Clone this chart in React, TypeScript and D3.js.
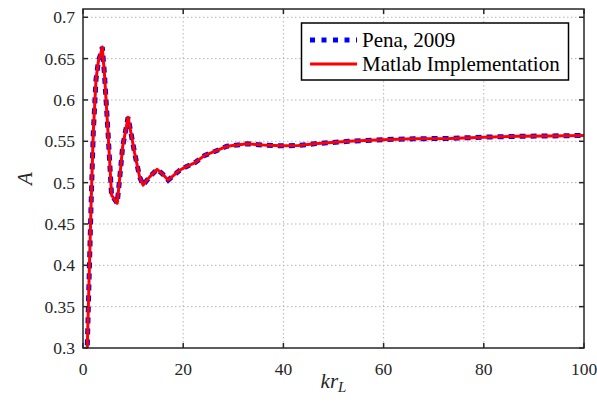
import React from "react";
import * as d3 from "d3";

const krValues = [0.6, 0.85, 1.6, 2.05, 2.6, 3.1, 3.5, 3.85, 4.3, 5.0, 5.7, 6.83, 7.4, 7.9, 9.0, 10.3, 11.3, 12.0, 13.3, 14.8, 15.8, 17.0, 19.3, 20.5, 22.3, 24.3, 26.4, 28.7, 32.8, 36, 39.5, 43, 46.2, 53, 59.7, 66, 73.2, 80, 86.7, 93, 100];
const penaValues = [0.25, 0.3, 0.471, 0.56, 0.625, 0.648, 0.655, 0.664, 0.63, 0.56, 0.485, 0.475, 0.51, 0.543, 0.579, 0.536, 0.507, 0.497, 0.507, 0.516, 0.511, 0.503, 0.515, 0.519, 0.524, 0.533, 0.538, 0.544, 0.547, 0.5455, 0.5445, 0.545, 0.547, 0.55, 0.552, 0.553, 0.5535, 0.555, 0.556, 0.5565, 0.557];
const matlabValues = penaValues.slice();
const xTicks = [0, 20, 40, 60, 80, 100];
const yTicks = [0.3, 0.35, 0.4, 0.45, 0.5, 0.55, 0.6, 0.65, 0.7];
const yTickLabels = ["0.3", "0.35", "0.4", "0.45", "0.5", "0.55", "0.6", "0.65", "0.7"];
const seriesNames = ["Pena, 2009", "Matlab Implementation"];

const W = 597, H = 407;
const L = 83, R = 584, T = 9, B = 348;
const FONT = "'Liberation Serif', Tinos, 'Times New Roman', 'Nimbus Roman', serif";

export default function App() {
  const x = d3.scaleLinear().domain([0, 100]).range([L, R]);
  const y = d3.scaleLinear().domain([0.3, 0.71]).range([B, T]);
  const line = d3.line<number>().x((_, i) => x(krValues[i])).y((d) => y(d));
  const axisColor = "#262626";
  return (
    <svg width={W} height={H} style={{ position: "absolute", left: 0, top: 0, background: "#fff" }}>
      <defs>
        <clipPath id="plotclip">
          <rect x={L} y={T} width={R - L} height={B - T} />
        </clipPath>
      </defs>
      <rect x={L} y={T} width={R - L} height={B - T} fill="#fff" />
      {xTicks.slice(1, -1).map((t) => (
        <line key={"gx" + t} x1={x(t)} x2={x(t)} y1={T} y2={B} stroke="#b5b5b5" strokeWidth={1} strokeDasharray="1.5 2.5" />
      ))}
      {yTicks.slice(1).map((t) => (
        <line key={"gy" + t} x1={L} x2={R} y1={y(t)} y2={y(t)} stroke="#b5b5b5" strokeWidth={1} strokeDasharray="1.5 2.5" />
      ))}
      <g clipPath="url(#plotclip)">
        <path d={line(penaValues) || ""} fill="none" stroke="#0000ff" strokeWidth={5} strokeDasharray="6 5" />
        <path d={line(matlabValues) || ""} fill="none" stroke="#ff0000" strokeWidth={3} strokeLinejoin="round" />
      </g>
      <rect x={L} y={T} width={R - L} height={B - T} fill="none" stroke={axisColor} strokeWidth={1.5} />
      {xTicks.map((t) => (
        <g key={"tx" + t}>
          <line x1={x(t)} x2={x(t)} y1={B} y2={B - 5} stroke={axisColor} strokeWidth={1.5} />
          <line x1={x(t)} x2={x(t)} y1={T} y2={T + 5} stroke={axisColor} strokeWidth={1.5} />
          <text x={x(t)} y={375} textAnchor="middle" fontFamily={FONT} fontSize={17.5} fill={axisColor}>{t}</text>
        </g>
      ))}
      {yTicks.map((t, i) => (
        <g key={"ty" + t}>
          <line x1={L} x2={L + 5} y1={y(t)} y2={y(t)} stroke={axisColor} strokeWidth={1.5} />
          <line x1={R} x2={R - 5} y1={y(t)} y2={y(t)} stroke={axisColor} strokeWidth={1.5} />
          <text x={75} y={y(t)} dy="0.35em" textAnchor="end" fontFamily={FONT} fontSize={17.5} fill={axisColor}>{yTickLabels[i]}</text>
        </g>
      ))}
      <text transform={`translate(32, ${(T + B) / 2}) rotate(-90)`} textAnchor="middle" fontFamily={FONT} fontStyle="italic" fontSize={21} fill={axisColor}>A</text>
      <text x={(L + R) / 2} y={388} textAnchor="middle" fontFamily={FONT} fontStyle="italic" fontSize={21} fill={axisColor}>
        kr<tspan fontSize={15} dy={4}>L</tspan>
      </text>
      <g>
        <rect x={301.5} y={23} width={267} height={57} fill="#fff" stroke="#000" strokeWidth={1.5} />
        <line x1={310} x2={357} y1={40} y2={40} stroke="#0000ff" strokeWidth={5} strokeDasharray="5 6.5" />
        <line x1={310} x2={357} y1={64} y2={64} stroke="#ff0000" strokeWidth={3} />
        <text x={362} y={47} fontFamily={FONT} fontSize={21} fill="#000">{seriesNames[0]}</text>
        <text x={362} y={71} fontFamily={FONT} fontSize={21} fill="#000">{seriesNames[1]}</text>
      </g>
    </svg>
  );
}
